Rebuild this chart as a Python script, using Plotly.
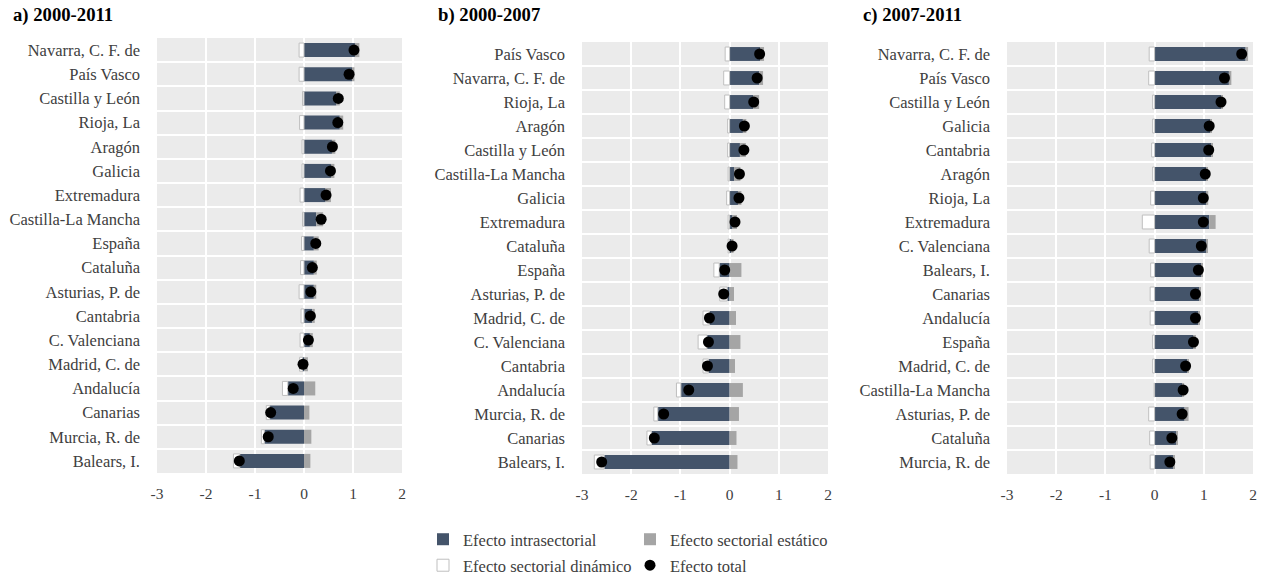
import plotly.graph_objects as go

# ---------------- data ----------------
regions_a = ["Navarra, C. F. de", "País Vasco", "Castilla y León", "Rioja, La", "Aragón", "Galicia",
             "Extremadura", "Castilla-La Mancha", "España", "Cataluña", "Asturias, P. de", "Cantabria",
             "C. Valenciana", "Madrid, C. de", "Andalucía", "Canarias", "Murcia, R. de", "Balears, I."]
intra_a = [1.04, 0.98, 0.66, 0.73, 0.57, 0.55, 0.44, 0.25, 0.20, 0.20, 0.20, 0.17, 0.12, -0.03, -0.33, -0.70, -0.81, -1.31]
static_a = [0.09, 0.05, 0.07, 0.07, 0.07, 0.07, 0.11, 0.14, 0.10, 0.06, 0.05, 0.05, 0.06, 0.08, 0.23, 0.11, 0.15, 0.13]
dynamic_a = [-0.10, -0.10, -0.03, -0.09, -0.04, -0.04, -0.08, -0.03, -0.05, -0.07, -0.10, -0.06, -0.08, -0.06, -0.11, -0.07, -0.06, -0.13]
total_a = [1.02, 0.92, 0.70, 0.69, 0.58, 0.54, 0.45, 0.35, 0.24, 0.17, 0.14, 0.13, 0.09, -0.02, -0.22, -0.68, -0.73, -1.32]

regions_b = ["País Vasco", "Navarra, C. F. de", "Rioja, La", "Aragón", "Castilla y León", "Castilla-La Mancha",
             "Galicia", "Extremadura", "Cataluña", "España", "Asturias, P. de", "Madrid, C. de",
             "C. Valenciana", "Cantabria", "Andalucía", "Murcia, R. de", "Canarias", "Balears, I."]
intra_b = [0.62, 0.60, 0.48, 0.27, 0.21, 0.09, 0.17, 0.06, 0.03, -0.21, -0.05, -0.41, -0.46, -0.43, -0.99, -1.46, -1.59, -2.55]
static_b = [0.08, 0.08, 0.12, 0.07, 0.12, 0.13, 0.07, 0.09, 0.05, 0.24, 0.09, 0.13, 0.22, 0.11, 0.27, 0.19, 0.14, 0.16]
dynamic_b = [-0.09, -0.12, -0.10, -0.04, -0.04, -0.03, -0.06, -0.03, -0.03, -0.11, -0.15, -0.13, -0.18, -0.11, -0.09, -0.08, -0.09, -0.20]
total_b = [0.61, 0.56, 0.49, 0.30, 0.29, 0.20, 0.19, 0.11, 0.05, -0.10, -0.12, -0.41, -0.43, -0.45, -0.83, -1.34, -1.53, -2.60]

regions_c = ["Navarra, C. F. de", "País Vasco", "Castilla y León", "Galicia", "Cantabria", "Aragón",
             "Rioja, La", "Extremadura", "C. Valenciana", "Balears, I.", "Canarias", "Andalucía",
             "España", "Madrid, C. de", "Castilla-La Mancha", "Asturias, P. de", "Cataluña", "Murcia, R. de"]
intra_c = [1.85, 1.51, 1.36, 1.14, 1.15, 1.06, 1.06, 1.11, 1.05, 0.96, 0.91, 0.90, 0.80, 0.66, 0.57, 0.61, 0.44, 0.39]
static_c = [0.05, 0.05, 0.03, 0.02, 0.02, 0.02, 0.03, 0.13, 0.02, 0.02, 0.02, 0.02, 0.04, 0.02, 0.03, 0.08, 0.02, 0.01]
dynamic_c = [-0.11, -0.12, -0.04, -0.04, -0.06, -0.04, -0.08, -0.25, -0.11, -0.08, -0.09, -0.09, -0.04, -0.04, -0.01, -0.12, -0.10, -0.09]
total_c = [1.77, 1.42, 1.35, 1.11, 1.10, 1.03, 0.99, 0.99, 0.95, 0.89, 0.83, 0.83, 0.79, 0.63, 0.58, 0.56, 0.35, 0.31]

panel_titles = ["a) 2000-2011", "b) 2000-2007", "c) 2007-2011"]
series_names = ["Efecto intrasectorial", "Efecto sectorial estático", "Efecto sectorial dinámico", "Efecto total"]
x_ticks = [-3, -2, -1, 0, 1, 2]
x_ticklabels = ["-3", "-2", "-1", "0", "1", "2"]

# ---------------- style ----------------
W, H = 1270, 577
DARK = "#44546a"
GREY = "#a5a5a5"
BG = "#ebebeb"
TXT = "#404040"
FONT = "Liberation Serif, Times New Roman, serif"

panels = [
    (regions_a, intra_a, static_a, dynamic_a, total_a, (157, 402), (38, 473)),
    (regions_b, intra_b, static_b, dynamic_b, total_b, (582, 828), (42, 474)),
    (regions_c, intra_c, static_c, dynamic_c, total_c, (1007, 1253), (42, 474)),
]

fig = go.Figure()
layout = dict(
    width=W, height=H,
    margin=dict(l=0, r=0, t=0, b=0, autoexpand=False),
    paper_bgcolor="white", plot_bgcolor=BG,
    barmode="relative", bargap=0.42,
    font=dict(family=FONT, size=16, color=TXT),
    showlegend=True,
)

annotations = []
for i, (cats, intra, stat, dyn, tot, (x0, x1), (y0, y1)) in enumerate(panels):
    sfx = "" if i == 0 else str(i + 1)
    xa, ya = "x" + sfx, "y" + sfx
    first = i == 0
    n = len(cats)
    fig.add_trace(go.Bar(x=intra, y=cats, orientation="h", name=series_names[0],
                         marker=dict(color=DARK, line=dict(width=0)), xaxis=xa, yaxis=ya,
                         showlegend=first, legend="legend", legendrank=1))
    fig.add_trace(go.Bar(x=stat, y=cats, orientation="h", name=series_names[1],
                         marker=dict(color=GREY, line=dict(width=0)), xaxis=xa, yaxis=ya,
                         showlegend=first, legend="legend", legendrank=2))
    fig.add_trace(go.Bar(x=dyn, y=cats, orientation="h", name=series_names[2],
                         marker=dict(color="white", line=dict(width=1, color="#bfbfbf")), xaxis=xa, yaxis=ya,
                         showlegend=first, legend="legend2", legendrank=3))
    fig.add_trace(go.Scatter(x=tot, y=cats, mode="markers", name=series_names[3],
                             marker=dict(color="black", size=11), xaxis=xa, yaxis=ya,
                             showlegend=first, legend="legend2", legendrank=4))
    layout["xaxis" + sfx] = dict(
        domain=[x0 / W, x1 / W], range=[-3, 2], tickvals=x_ticks, ticktext=x_ticklabels, anchor=ya,
        showgrid=True, gridcolor="white", gridwidth=2, zeroline=False, showline=False,
        ticks="", ticklabelstandoff=9, tickfont=dict(size=15.5, color=TXT), automargin=False,
        fixedrange=True,
    )
    layout["yaxis" + sfx] = dict(
        domain=[1 - y1 / H, 1 - y0 / H], type="category", range=[n - 0.5, -0.5], anchor=xa,
        showgrid=True, gridcolor="white", gridwidth=2, tickson="boundaries",
        ticks="", ticklabelstandoff=16, tickfont=dict(size=16.5, color=TXT), automargin=False,
        showline=False, zeroline=False,
    )
    annotations.append(dict(text="<b>" + panel_titles[i] + "</b>", xref="paper", yref="paper",
                            x=[11, 436, 861][i] / W, y=1 - 15 / H, xanchor="left", yanchor="middle",
                            showarrow=False, font=dict(size=18.7, color="black", family=FONT)))

layout["annotations"] = annotations
legend_common = dict(orientation="h", x=423 / W, xanchor="left", yanchor="top",
                     entrywidth=162, entrywidthmode="pixels", font=dict(size=16.5, color=TXT),
                     bgcolor="rgba(0,0,0,0)", tracegroupgap=0, itemwidth=30)
layout["legend"] = dict(y=1 - 522 / H, **legend_common)
layout["legend2"] = dict(y=1 - 548 / H, **legend_common)
fig.update_layout(**layout)
fig.write_html("out.html", post_script="document.body.style.margin='0';",
               config={"displayModeBar": False})
